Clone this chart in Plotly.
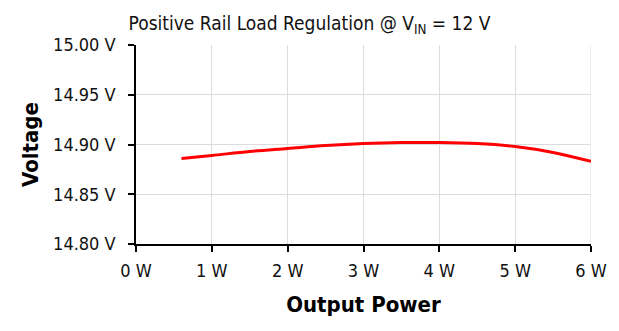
import plotly.graph_objects as go

# Load regulation of the positive rail at VIN = 12 V
power_w = [0.6, 1.0, 1.5, 2.0, 2.5, 3.0, 3.5, 4.0, 4.5, 5.0, 5.5, 6.0]
voltage_v = [14.886, 14.889, 14.893, 14.896, 14.899, 14.901, 14.902,
             14.902, 14.901, 14.898, 14.892, 14.883]

x_ticks = [0, 1, 2, 3, 4, 5, 6]
y_ticks = [14.80, 14.85, 14.90, 14.95, 15.00]

FONT = "DejaVu Sans Condensed, Liberation Sans Narrow, Liberation Sans, sans-serif"

fig = go.Figure()
fig.add_trace(go.Scatter(
    x=power_w, y=voltage_v, mode="lines",
    line=dict(color="#ff0000", width=3, shape="spline", smoothing=1.0),
    hoverinfo="x+y", showlegend=False,
))

fig.update_layout(
    width=619, height=331,
    margin=dict(l=136, r=26, t=45, b=87),
    paper_bgcolor="white", plot_bgcolor="white",
    font=dict(family=FONT, color="#111111", size=18),
    title=dict(
        text="Positive Rail Load Regulation @ V<sub>IN</sub> = 12 V",
        x=0.5, xanchor="center", y=0.95, yanchor="top",
        font=dict(family=FONT, size=19, color="#111111"),
    ),
)

fig.update_xaxes(
    range=[0, 6], tickvals=x_ticks, ticktext=[f"{v} W" for v in x_ticks],
    showgrid=True, gridcolor="#dcdcdc", gridwidth=1,
    showline=True, linecolor="black", linewidth=1.5,
    ticks="outside", ticklen=6, tickcolor="black", tickwidth=1.5,
    tickfont=dict(family=FONT, size=18), ticklabelstandoff=4,
    zeroline=False,
    title=dict(text="<b>Output Power</b>", standoff=16,
               font=dict(family=FONT, size=22, color="black")),
)
fig.update_yaxes(
    range=[14.80, 15.00], tickvals=y_ticks,
    ticktext=[f"{v:.2f} V" for v in y_ticks],
    showgrid=True, gridcolor="#dcdcdc", gridwidth=1,
    showline=True, linecolor="black", linewidth=1.5,
    ticks="outside", ticklen=6, tickcolor="black", tickwidth=1.5,
    tickfont=dict(family=FONT, size=18), ticklabelstandoff=9,
    zeroline=False,
    title=dict(text="<b>Voltage</b>", standoff=8,
               font=dict(family=FONT, size=22, color="black")),
)

# right-hand border gridline at 6 W
fig.add_shape(type="line", xref="x", yref="y", x0=6, x1=6, y0=14.80, y1=15.00,
              line=dict(color="#dcdcdc", width=1), layer="below")

fig.write_html("out.html")
